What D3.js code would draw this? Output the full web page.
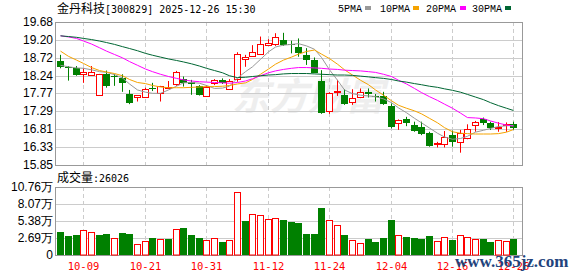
<!DOCTYPE html>
<html lang="zh">
<head>
    <meta charset="UTF-8">
    <title>金丹科技 K线</title>
    <style>
        body { margin: 0; background: #fff; }
        svg { display: block; }
        .grid line { stroke: #ccc; shape-rendering: crispEdges; }
        .vgrid line { stroke: #ccc; stroke-dasharray: 4,3; shape-rendering: crispEdges; }
        .frame { fill: none; stroke: #999; shape-rendering: crispEdges; }
        .ylab { font: 12px 'Liberation Sans', Arial, sans-serif; fill: #000; }
        .xlab { font: 10.5px 'DejaVu Sans Mono', monospace; fill: #f00; }
    </style>
</head>
<body>
    <div id='chart'></div>

    <script src='https://cdnjs.cloudflare.com/ajax/libs/d3/7.8.5/d3.min.js'></script>
    <script type='text/javascript'>
        // trading days shown, 2025-09-26 .. 2025-12-26
        const dates = ['09-26','09-29','09-30','10-09','10-10','10-13','10-14','10-15','10-16','10-17',
                       '10-20','10-21','10-22','10-23','10-24','10-27','10-28','10-29','10-30','10-31',
                       '11-03','11-04','11-05','11-06','11-07','11-10','11-11','11-12','11-13','11-14',
                       '11-17','11-18','11-19','11-20','11-21','11-24','11-25','11-26','11-27','11-28',
                       '12-01','12-02','12-03','12-04','12-05','12-08','12-09','12-10','12-11','12-12',
                       '12-15','12-16','12-17','12-18','12-19','12-22','12-23','12-24','12-25','12-26'];

        const open  = [18.64,18.47,18.46,18.28,18.27,17.72,18.28,18.24,18.18,17.75,
                       17.66,17.68,17.90,17.77,17.93,18.00,18.15,18.07,17.97,17.71,
                       18.05,18.13,17.89,18.13,18.68,18.77,18.82,19.07,19.11,19.20,
                       19.09,19.02,18.80,18.66,18.10,17.30,17.81,17.73,17.53,17.66,
                       17.81,17.70,17.70,17.44,16.97,17.07,16.92,16.88,16.70,16.42,
                       16.43,16.65,16.45,16.57,16.92,17.08,16.97,16.87,16.93,16.94];
        const high  = [18.80,18.50,18.50,18.44,18.50,18.29,18.38,18.29,18.28,17.86,
                       17.72,17.92,18.05,17.97,18.10,18.37,18.22,18.13,17.99,17.98,
                       18.15,18.17,18.15,18.87,18.80,19.06,19.29,19.22,19.38,19.39,
                       19.18,19.24,18.98,18.73,18.39,17.80,18.13,17.88,17.88,17.90,
                       17.90,17.75,17.81,17.50,17.07,17.14,17.01,17.01,16.74,16.47,
                       16.76,16.77,16.79,16.94,17.03,17.12,17.01,17.00,16.99,17.01];
        const low   = [18.44,18.11,18.24,18.05,18.26,17.71,17.92,17.97,17.81,17.48,
                       17.55,17.66,17.83,17.55,17.92,17.97,17.95,17.73,17.71,17.70,
                       17.99,18.02,17.87,18.08,18.48,18.75,18.80,19.07,19.04,19.04,
                       18.84,18.75,18.53,18.31,17.22,17.22,17.70,17.46,17.46,17.64,
                       17.66,17.55,17.46,16.83,16.79,16.89,16.74,16.65,16.34,16.32,
                       16.32,16.34,16.18,16.54,16.74,16.92,16.79,16.74,16.74,16.79];
        const close = [18.47,18.45,18.26,18.34,18.34,18.28,17.97,18.21,18.05,17.50,
                       17.72,17.89,17.88,17.96,17.94,18.33,18.04,18.01,17.73,17.95,
                       18.13,18.06,18.10,18.81,18.74,18.88,19.09,19.13,19.29,19.06,
                       19.05,18.86,18.66,18.32,17.24,17.79,17.83,17.50,17.64,17.80,
                       17.76,17.68,17.48,16.88,17.06,16.97,16.76,16.70,16.36,16.44,
                       16.61,16.47,16.70,16.81,17.00,16.97,16.83,16.88,16.95,16.82];

        // volume in 手
        const volume = [36200,29900,31500,38800,36200,31500,33100,26200,34600,33100,
                        16800,21500,26800,24700,24700,40400,42500,31500,26800,23100,
                        26200,21000,23100,100300,53500,65600,64000,56200,59300,55100,
                        52000,50400,33100,33100,74000,54600,46700,31500,23600,18900,
                        25200,20500,26800,55100,31000,28300,26800,25200,29900,22000,
                        27800,23600,31000,27800,25200,25200,20500,23600,22000,26026];

        const ma5  = [18.52,18.48,18.45,18.44,18.40,18.35,18.33,18.27,18.18,18.02,
                      17.86,17.80,17.77,17.77,17.86,17.96,18.05,18.06,18.04,17.98,
                      17.90,17.91,17.96,18.18,18.35,18.48,18.68,18.88,19.01,19.06,
                      19.08,19.10,19.04,18.95,18.73,18.40,18.12,17.86,17.76,17.72,
                      17.70,17.68,17.62,17.52,17.38,17.25,17.10,16.98,16.84,16.70,
                      16.60,16.54,16.56,16.62,16.73,16.78,16.83,16.88,16.90,16.91];
        const ma10 = [18.90,18.76,18.66,18.57,18.46,18.38,18.34,18.30,18.24,18.14,
                      18.06,18.03,17.98,17.94,17.92,17.92,17.92,17.93,17.94,17.95,
                      17.95,17.96,17.98,18.02,18.05,18.14,18.28,18.42,18.55,18.66,
                      18.74,18.82,18.89,18.93,18.82,18.70,18.55,18.40,18.26,18.12,
                      18.00,17.86,17.72,17.57,17.45,17.37,17.30,17.22,17.10,16.98,
                      16.85,16.74,16.70,16.69,16.68,16.68,16.68,16.69,16.73,16.80];
        const ma20 = [19.31,19.28,19.24,19.17,19.09,18.99,18.90,18.81,18.72,18.62,
                      18.52,18.42,18.35,18.28,18.22,18.17,18.13,18.10,18.08,18.07,
                      18.06,18.05,18.04,18.06,18.10,18.16,18.24,18.32,18.37,18.41,
                      18.44,18.46,18.46,18.45,18.44,18.42,18.41,18.39,18.38,18.37,
                      18.35,18.33,18.28,18.22,18.12,18.02,17.90,17.79,17.68,17.58,
                      17.48,17.37,17.24,17.12,17.11,17.09,17.03,16.97,16.92,16.89];
        const ma30 = [19.31,19.29,19.27,19.24,19.21,19.17,19.13,19.08,19.02,18.97,
                      18.91,18.84,18.79,18.74,18.69,18.65,18.61,18.56,18.50,18.44,
                      18.38,18.32,18.24,18.19,18.20,18.22,18.24,18.26,18.27,18.29,
                      18.30,18.30,18.30,18.29,18.28,18.27,18.26,18.26,18.25,18.23,
                      18.21,18.19,18.17,18.14,18.10,18.07,18.03,18.00,17.96,17.93,
                      17.89,17.85,17.80,17.74,17.67,17.60,17.52,17.44,17.37,17.31];

        const priceTicks = [19.68,19.20,18.72,18.24,17.77,17.29,16.81,16.33,15.85];
        const volTicks = [107600,80700,53800,26900,0];
        const volTickLabels = ['10.76万','8.07万','5.38万','2.69万','0'];
        const dateTicks = ['10-09','10-21','10-31','11-12','11-24','12-04','12-16','12-26'];

        const maNames = ['5PMA','10PMA','20PMA','30PMA'];
        const maColors = ['#999999','#f5a300','#ff00ff','#006633'];

        const width = 578, height = 276;
        const left = 55, right = 522;
        const pTop = 22, pBottom = 165;
        const vTop = 187, vBottom = 255;
        const RED = '#ff0000', GREEN = '#008000';

        let svg = d3.select('#chart')
                    .append('svg')
                      .attr('width', width)
                      .attr('height', height);

        let x = d3.scaleBand().domain(dates).range([56.5, 517.3]);
        const cx = d => Math.round(x(d) + x.bandwidth() / 2);

        let yP = d3.scaleLinear().domain([15.85, 19.68]).range([pBottom, pTop]);
        let yV = d3.scaleLinear().domain([0, 107600]).range([vBottom, vTop]);

        // watermark
        svg.append('text')
            .attr('x', 232).attr('y', 110)
            .attr('font-family', "'Noto Sans CJK SC', sans-serif")
            .attr('font-size', 38).attr('font-weight', 'bold')
            .attr('font-style', 'italic')
            .attr('fill', '#eeeeee')
            .text('东方财富');

        // horizontal grid
        svg.append('g').attr('class', 'grid')
            .selectAll('line').data(priceTicks.slice(1, -1)).enter()
            .append('line')
              .attr('x1', left).attr('x2', right)
              .attr('y1', d => Math.round(yP(d)) + 0.5).attr('y2', d => Math.round(yP(d)) + 0.5);
        svg.append('g').attr('class', 'grid')
            .selectAll('line').data(volTicks.slice(1, -1)).enter()
            .append('line')
              .attr('x1', left).attr('x2', right)
              .attr('y1', d => Math.round(yV(d)) + 0.5).attr('y2', d => Math.round(yV(d)) + 0.5);

        // vertical dashed grid
        [[pTop, pBottom], [vTop, vBottom]].forEach(([a, b]) => {
            svg.append('g').attr('class', 'vgrid')
                .selectAll('line').data(dateTicks).enter()
                .append('line')
                  .attr('x1', d => cx(d) + 0.5).attr('x2', d => cx(d) + 0.5)
                  .attr('y1', a).attr('y2', b);
        });

        // panel frames
        svg.append('rect').attr('class', 'frame')
            .attr('x', left + 0.5).attr('y', pTop + 0.5)
            .attr('width', right - left).attr('height', pBottom - pTop);
        svg.append('rect').attr('class', 'frame')
            .attr('x', left + 0.5).attr('y', vTop + 0.5)
            .attr('width', right - left).attr('height', vBottom - vTop);

        // candles
        const candles = dates.map((d, i) => ({d, o: open[i], h: high[i], l: low[i], c: close[i]}));
        let cg = svg.append('g').selectAll('g').data(candles).enter().append('g');
        cg.append('line')
            .attr('x1', d => cx(d.d) + 0.5).attr('x2', d => cx(d.d) + 0.5)
            .attr('y1', d => yP(d.h)).attr('y2', d => yP(d.l))
            .attr('stroke', d => d.c >= d.o ? RED : GREEN);
        cg.append('rect')
            .attr('x', d => d.c >= d.o ? cx(d.d) - 2.5 : cx(d.d) - 3)
            .attr('y', d => Math.round(yP(Math.max(d.o, d.c))) + (d.c >= d.o ? 0.5 : 0))
            .attr('width', d => d.c >= d.o ? 6 : 7)
            .attr('height', d => Math.max(1, Math.round(yP(Math.min(d.o, d.c)) - yP(Math.max(d.o, d.c)))))
            .attr('fill', d => d.c >= d.o ? '#fff' : GREEN)
            .attr('stroke', d => d.c >= d.o ? RED : 'none');

        // moving averages
        const line = d3.line().x((v, i) => cx(dates[i]) + 0.5).y(v => yP(v));
        [ma5, ma10, ma20, ma30].forEach((s, k) => {
            svg.append('path')
                .attr('d', line(s))
                .attr('fill', 'none')
                .attr('stroke', maColors[k])
                .attr('stroke-width', 1);
        });

        // volume bars: colour by close vs previous close
        const vols = dates.map((d, i) => ({d, v: volume[i], up: close[i] >= (i ? close[i - 1] : open[i])}));
        svg.append('g').selectAll('rect').data(vols).enter()
            .append('rect')
              .attr('x', d => d.up ? cx(d.d) - 2.5 : cx(d.d) - 3)
              .attr('y', d => Math.round(yV(d.v)) + (d.up ? 0.5 : 0))
              .attr('width', d => d.up ? 6 : 7)
              .attr('height', d => vBottom - Math.round(yV(d.v)) - (d.up ? 0.5 : 0))
              .attr('fill', d => d.up ? '#fff' : GREEN)
              .attr('stroke', d => d.up ? RED : 'none');

        // y labels
        svg.append('g').selectAll('text').data(priceTicks).enter()
            .append('text').attr('class', 'ylab')
              .attr('x', 53).attr('y', d => yP(d) + 4)
              .attr('text-anchor', 'end')
              .text(d => d.toFixed(2));
        svg.append('g').selectAll('text').data(volTicks).enter()
            .append('text').attr('class', 'ylab')
              .attr('x', 53).attr('y', d => yV(d) + 4)
              .attr('text-anchor', 'end')
              .text((d, i) => volTickLabels[i]);

        // x labels
        svg.append('g').selectAll('text').data(dateTicks).enter()
            .append('text').attr('class', 'xlab')
              .attr('x', d => cx(d) + 0.5).attr('y', 270)
              .attr('text-anchor', 'middle')
              .text(d => d);

        // title
        let title = svg.append('text').attr('x', 57).attr('y', 13)
            .attr('font-family', "'DejaVu Sans Mono', monospace").attr('font-size', 10);
        title.append('tspan').attr('font-family', "'Noto Sans CJK SC'").attr('font-size', 12).text('金丹科技');
        title.append('tspan').text('[300829] 2025-12-26 15:30');

        let vt = svg.append('text').attr('x', 57).attr('y', 182)
            .attr('font-family', "'DejaVu Sans Mono', monospace").attr('font-size', 10);
        vt.append('tspan').attr('font-family', "'Noto Sans CJK SC'").attr('font-size', 12).text('成交量');
        vt.append('tspan').text(':' + volume[volume.length - 1]);

        // legend
        const legX = [338, 380, 426, 472];
        const legSq = [365, 413, 460, 505];
        maNames.forEach((n, k) => {
            svg.append('text').attr('x', legX[k]).attr('y', 12)
                .attr('font-family', "'Liberation Mono', monospace").attr('font-size', 10)
                .text(n);
            svg.append('rect').attr('x', legSq[k]).attr('y', 6)
                .attr('width', 6).attr('height', 4)
                .attr('fill', maColors[k]);
        });

        // site watermark
        svg.append('text').attr('x', 455).attr('y', 267)
            .attr('font-family', "'Liberation Serif', serif").attr('font-size', 17)
            .attr('font-weight', 'bold')
            .attr('fill', '#22437c')
            .text('www.365jz.com');
    </script>
</body>
</html>
